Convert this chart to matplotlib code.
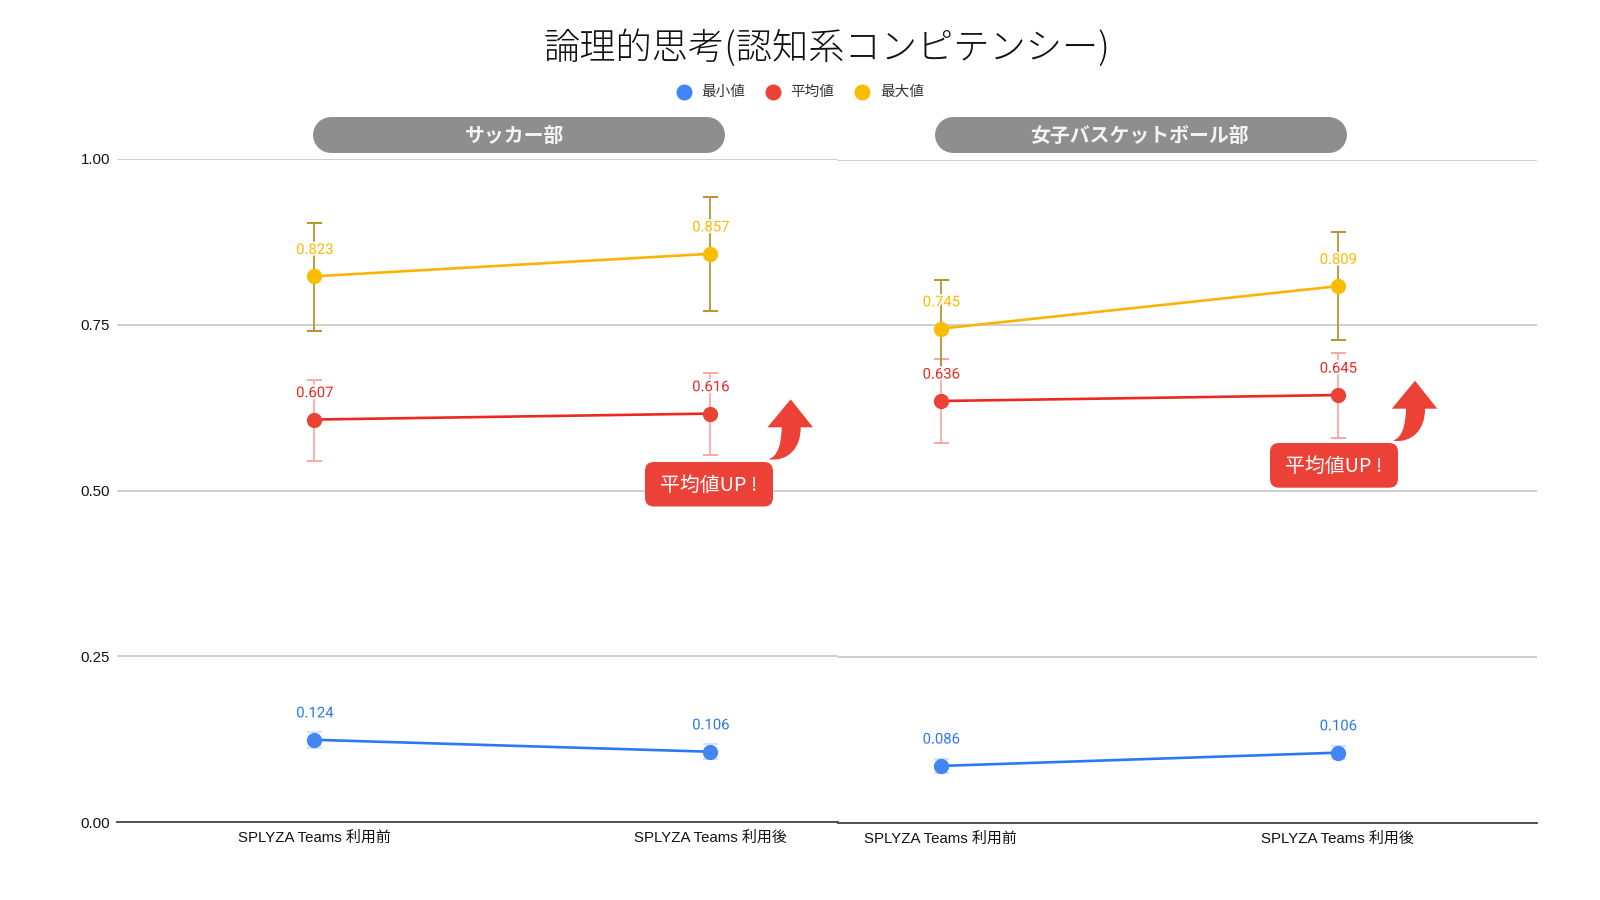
import matplotlib
matplotlib.use("Agg")
import matplotlib.pyplot as plt
import matplotlib.patheffects as pe
from matplotlib.patches import FancyBboxPatch, PathPatch
from matplotlib.path import Path

JP = ["Noto Sans CJK JP", "DejaVu Sans"]
TICK_FONT = ["Liberation Sans", "Noto Sans CJK JP"]
LABEL_FONT = ["Roboto", "DejaVu Sans"]

# ── Data ─────────────────────────────────────────────────────────────────────
CATEGORIES = ["SPLYZA Teams 利用前", "SPLYZA Teams 利用後"]
SERIES = ["最小値", "平均値", "最大値"]
YTICKS = [0.0, 0.25, 0.5, 0.75, 1.0]

soccer_min = [0.124, 0.106]
soccer_avg = [0.607, 0.616]
soccer_max = [0.823, 0.857]
soccer_min_lo = [0.112, 0.095]
soccer_min_hi = [0.136, 0.118]
soccer_avg_lo = [0.545, 0.553]
soccer_avg_hi = [0.667, 0.677]
soccer_max_lo = [0.740, 0.770]
soccer_max_hi = [0.904, 0.942]

basket_min = [0.086, 0.106]
basket_avg = [0.636, 0.645]
basket_max = [0.745, 0.809]
basket_min_lo = [0.076, 0.096]
basket_min_hi = [0.096, 0.116]
basket_avg_lo = [0.572, 0.580]
basket_avg_hi = [0.699, 0.709]
basket_max_lo = [0.672, 0.728]
basket_max_hi = [0.819, 0.890]

COLORS = ["#4285f4", "#ea4335", "#fbbc04"]
LINE_COLORS = ["#2b78f2", "#ea2a20", "#fbb404"]
ERR_COLORS = ["#d3e2fb", "#f9aaa5", "#b8952f"]

W, H = 1600, 900
fig = plt.figure(figsize=(16, 9), dpi=100, facecolor="white")


def add_axes_px(left, right, top, bottom):
    return fig.add_axes([left / W, 1 - bottom / H, (right - left) / W, (bottom - top) / H])


def draw_panel(ax, x0_px, x1_px, left, right, mins, avgs, maxs, bounds):
    unit = x1_px - x0_px
    ax.set_xlim((left - x0_px) / unit, (right - x0_px) / unit)
    ax.set_ylim(0, 1)
    for s in ax.spines.values():
        s.set_visible(False)
    ax.set_yticks(YTICKS)
    ax.grid(axis="y", color="#cccccc", lw=1.3)
    ax.set_axisbelow(True)
    ax.axhline(0, color="#444444", lw=1.3, clip_on=False, zorder=1.5)
    ax.set_xticks([0, 1])
    ax.set_xticklabels(CATEGORIES, family=TICK_FONT, fontsize=10.8, color="#111111")
    ax.tick_params(axis="both", length=0)
    ax.tick_params(axis="x", pad=6)
    ax.patch.set_alpha(0)

    xs = [0, 1]
    # yellow bars sit under the red labels, so draw in series order
    for i, vals in enumerate([mins, avgs, maxs]):
        lo, hi = bounds[i]
        ax.vlines(xs, lo, hi, color=ERR_COLORS[i], lw=1.3, zorder=2)
        for x, a, b in zip(xs, lo, hi):
            ax.plot([x, x], [a, a], marker="_", ms=10.8, mew=1.4, color=ERR_COLORS[i],
                    zorder=2, clip_on=False)
            ax.plot([x, x], [b, b], marker="_", ms=10.8, mew=1.4, color=ERR_COLORS[i],
                    zorder=2, clip_on=False)
        ax.plot(xs, vals, color=LINE_COLORS[i], lw=1.9, zorder=3)
        ax.plot(xs, vals, "o", color=COLORS[i], ms=11, mew=0, zorder=4)
        for x, v in zip(xs, vals):
            ax.annotate(f"{v:.3f}", (x, v), xytext=(0.6, 19), textcoords="offset points",
                        ha="center", va="center", family=LABEL_FONT, fontsize=10.7,
                        color=LINE_COLORS[i] if i != 2 else COLORS[i], zorder=5,
                        path_effects=[pe.withStroke(linewidth=2.5, foreground="white")])


ax1 = add_axes_px(117, 838, 159, 822)
ax2 = add_axes_px(838, 1537, 159.5, 823)

draw_panel(ax1, 314, 710, 117, 838, soccer_min, soccer_avg, soccer_max,
           [(soccer_min_lo, soccer_min_hi), (soccer_avg_lo, soccer_avg_hi),
            (soccer_max_lo, soccer_max_hi)])
draw_panel(ax2, 940.5, 1337.5, 838, 1537, basket_min, basket_avg, basket_max,
           [(basket_min_lo, basket_min_hi), (basket_avg_lo, basket_avg_hi),
            (basket_max_lo, basket_max_hi)])

ax1.set_yticklabels([f"{t:.2f}" for t in YTICKS], family=TICK_FONT, fontsize=10.8, color="#111111")
ax1.tick_params(axis="y", pad=5)
ax2.set_yticklabels([])

# ── Overlay in pixel coordinates: title, legend, pills, badges, arrows ───────
ov = fig.add_axes([0, 0, 1, 1], zorder=10)
ov.set_xlim(0, W)
ov.set_ylim(H, 0)
ov.axis("off")

ov.text(826.5, 49, "論理的思考(認知系コンピテンシー)", family=JP, fontsize=26.1,
        fontweight="light", ha="center", va="center", color="#111111")

for mx, tx, name, c in zip([683.5, 772.5, 862], [701, 790, 880], SERIES, COLORS):
    ov.plot([mx], [91.5], "o", color=c, ms=11.5, mew=0)
    ov.text(tx, 91.5, name, family=JP, fontsize=10.5, ha="left", va="center", color="#333333")

for x0, x1, tx, name in [(312.5, 724.5, 514.5, "サッカー部"),
                         (934.5, 1347, 1139, "女子バスケットボール部")]:
    # 36 px tall pill: a thick round-capped line, width given in points
    ov.plot([x0 + 18, x1 - 18], [134.7, 134.7], color="#8f8e8e", lw=25.9,
            solid_capstyle="round")
    ov.text(tx, 135.5, name, family=JP, fontsize=14.3, fontweight="bold",
            color="#f4f4f4", ha="center", va="center")

ARROW_VERTS = [(790.7, 399.3), (813, 427.3), (800.7, 427.3), (801, 448), (788, 462), (768.5, 459.3),
               (778, 456), (781, 445), (781.8, 427.3), (767.5, 427.3), (790.7, 399.3)]
ARROW_CODES = [Path.MOVETO, Path.LINETO, Path.LINETO, Path.CURVE4, Path.CURVE4, Path.CURVE4,
               Path.CURVE4, Path.CURVE4, Path.CURVE4, Path.LINETO, Path.CLOSEPOLY]

for dx, dy, bx0, bx1, by0, by1 in [(0, 0, 645, 773, 462, 506.5), (624.3, -18.6, 1270, 1398, 443, 487.7)]:
    verts = [(x + dx, y + dy) for x, y in ARROW_VERTS]
    ov.add_patch(PathPatch(Path(verts, ARROW_CODES), fc="#ec4136", ec="none"))
    ov.add_patch(FancyBboxPatch((bx0 + 9, by0 + 9), bx1 - bx0 - 18, by1 - by0 - 18,
                                boxstyle="round,pad=9,rounding_size=9",
                                fc="#ec4136", ec="none"))
    ov.text((bx0 + bx1) / 2, (by0 + by1) / 2 + 1, "平均値UP !", family=JP, fontsize=14.3,
            color="white", ha="center", va="center")

fig.savefig("out.png", dpi=100)
